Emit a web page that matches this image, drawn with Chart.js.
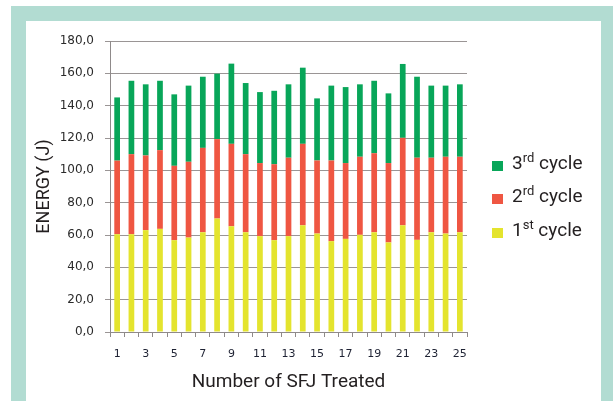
<!DOCTYPE html>
<html>
<head>
<meta charset="utf-8">
<script src="https://cdn.jsdelivr.net/npm/chart.js@4.4.1/dist/chart.umd.min.js"></script>
<style>
  html, body { margin:0; padding:0; background:#ffffff; }
  #wrap { position:relative; width:613px; height:401px; overflow:hidden; background:#ffffff; }
  .frame { position:absolute; background:#b2dcd2; }
  #c { position:absolute; left:0; top:0; }
  .leg { position:absolute; left:492px; font-family:Roboto, sans-serif; font-size:19px; color:#231f20; white-space:nowrap; line-height:1; }
  .leg .sw { position:absolute; left:0; width:11px; height:10px; }
  .leg .tx { position:absolute; left:20px; }
  .leg sup { font-size:13px; vertical-align:0; position:relative; top:-7px; }
</style>
</head>
<body>
<div id="wrap">
  <div class="frame" style="left:11px;top:6px;width:15px;height:395px;"></div>
  <div class="frame" style="left:11px;top:6px;width:602px;height:15px;"></div>
  <div class="frame" style="left:601px;top:6px;width:12px;height:395px;"></div>
  <canvas id="c" width="613" height="401"></canvas>
  <div id="legend"></div>
</div>
<script>
const categories = ["1","2","3","4","5","6","7","8","9","10","11","12","13","14","15","16","17","18","19","20","21","22","23","24","25"];
const cycle1 = [60.5,60.5,63.0,63.8,56.8,58.4,61.7,70.2,65.4,61.7,59.3,56.8,59.3,66.0,60.9,56.2,57.6,60.1,61.7,55.4,66.0,57.0,61.7,60.9,61.7];
const cycle2 = [45.5,49.5,46.2,48.7,46.0,46.9,52.2,49.1,51.0,48.3,45.2,47.0,48.5,50.4,45.2,49.9,46.9,48.3,48.9,49.1,54.1,50.8,46.1,47.5,46.7];
const cycle3 = [39.1,45.4,44.0,42.9,44.2,47.1,44.0,40.5,49.6,44.0,43.9,45.4,45.4,47.1,38.4,46.3,47.0,44.8,44.8,43.1,45.7,50.1,44.6,44.0,44.8];
const seriesNames = ["1st cycle","2rd cycle","3rd cycle"];
const legendHtml = ["1<sup>st</sup> cycle","2<sup>rd</sup> cycle","3<sup>rd</sup> cycle"];
const colors = ["#e4e42e","#ef5642","#08a659"];
const yTicks = [0,20,40,60,80,100,120,140,160,180];

const ctx = document.getElementById('c').getContext('2d');
new Chart(ctx, {
  type: 'bar',
  data: {
    labels: categories,
    datasets: [cycle1, cycle2, cycle3].map((d, i) => ({
      label: seriesNames[i],
      data: d,
      backgroundColor: colors[i],
      borderWidth: 0,
      categoryPercentage: 1.0,
      barPercentage: 0.4
    }))
  },
  options: {
    responsive: false,
    animation: false,
    devicePixelRatio: 1,
    layout: { padding: { left: 0, right: 146, top: 41, bottom: 0 } },
    plugins: { legend: { display: false }, tooltip: { enabled: false } },
    scales: {
      x: {
        stacked: true,
        afterFit: (axis) => { axis.height = 69; },
        grid: { drawOnChartArea: false, offset: true, tickLength: 5, color: '#8f8a8a', lineWidth: 1 },
        border: { color: '#8f8a8a', width: 1 },
        ticks: {
          autoSkip: false, maxRotation: 0, minRotation: 0, padding: 11,
          color: '#1e2233',
          font: { family: 'DejaVu Sans', size: 11 },
          callback: function(value, index) { return index % 2 === 0 ? categories[index] : ''; }
        },
        title: {
          display: true, text: 'Number of SFJ Treated', color: '#231f20',
          font: { family: 'Roboto', size: 19 },
          padding: { top: 0, bottom: 7 }
        }
      },
      y: {
        stacked: true,
        min: 0, max: 180,
        afterFit: (axis) => { axis.width = 110; },
        afterBuildTicks: (axis) => { axis.ticks = yTicks.map(v => ({ value: v })); },
        grid: { color: '#9a9595', lineWidth: 1, tickLength: 5 },
        border: { color: '#8f8a8a', width: 1 },
        ticks: {
          padding: 11, color: '#2b2b2b',
          font: { family: 'DejaVu Sans', size: 12 },
          callback: (v) => v.toFixed(1).replace('.', ',')
        },
        title: {
          display: true, text: 'ENERGY (J)', color: '#231f20',
          font: { family: 'Roboto', size: 18 },
          padding: { top: 34, bottom: 0 }
        }
      }
    }
  }
});

// HTML legend (order: 3rd, 2nd, 1st from top)
const legendTops = [153, 186, 220];
const leg = document.getElementById('legend');
[2, 1, 0].forEach((si, row) => {
  const d = document.createElement('div');
  d.className = 'leg';
  d.style.top = legendTops[row] + 'px';
  d.innerHTML = '<span class="sw" style="background:' + colors[si] + ';top:8px;"></span><span class="tx">' + legendHtml[si] + '</span>';
  leg.appendChild(d);
});
</script>
</body>
</html>
